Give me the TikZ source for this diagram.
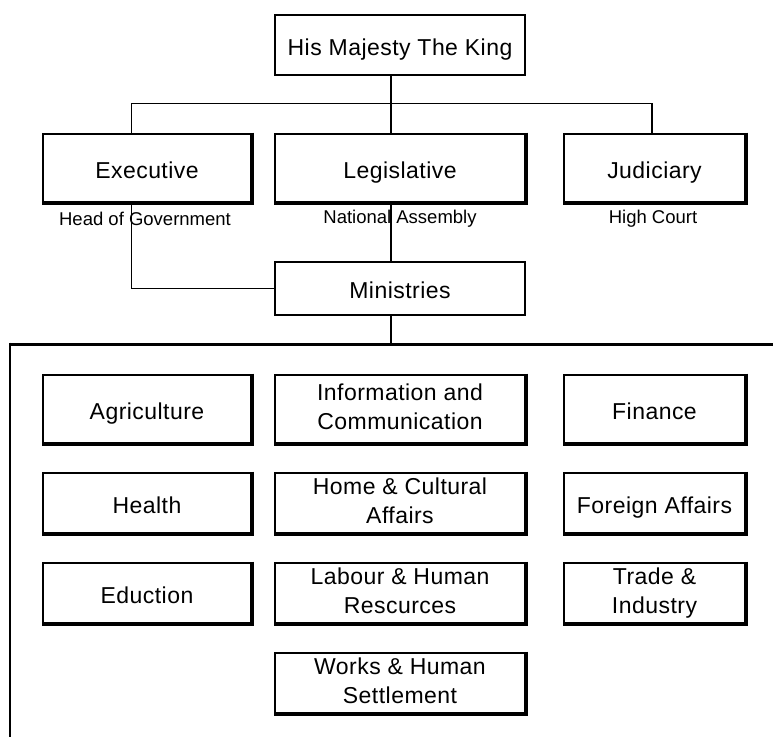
\documentclass[tikz,border=0pt]{standalone}
\usepackage{fontspec}
\newfontfamily\boxfamily{Liberation Sans}[LetterSpace=2]
\newfontfamily\notefamily{Liberation Sans}
\newcommand\boxstrut{\vrule width 0pt height 24.8pt depth 4.2pt}

\tikzset{
	box/.style={draw, fill=white, line width=1.2pt, inner sep=0pt, align=center,
		font=\boxfamily\fontsize{23}{29}\selectfont,
		execute at begin node=\boxstrut, execute at end node=\boxstrut},
	sbox/.style={box, append after command={
		([xshift=0.7pt,yshift=0.7pt]\tikzlastnode.north east) edge[line width=2.6pt] ([xshift=0.7pt]\tikzlastnode.south east)
		([yshift=-0.7pt]\tikzlastnode.south west) edge[line width=2.6pt] ([xshift=2pt,yshift=-0.7pt]\tikzlastnode.south east)}},
	lcol/.style={minimum width=208pt},
	mcol/.style={minimum width=250pt},
	rcol/.style={minimum width=181pt},
	note/.style={inner sep=0pt, font=\notefamily\fontsize{18.5}{22}\selectfont},
	link/.style={line width=1.2pt}
}

\begin{document}
\begin{tikzpicture}[x=1pt,y=-1pt]
			\useasboundingbox (0,0) rectangle (773,736);
			% government
			\node[box,mcol,minimum height=60pt] (king) at (400,45) {His Majesty The King};
			\node[sbox,lcol,minimum height=68pt] (exec) at (147,168) {Executive};
			\node[sbox,mcol,minimum height=68pt] (leg) at (400,168) {Legislative};
			\node[sbox,rcol,minimum height=68pt] (jud) at (654.5,168) {Judiciary};
			\node[note] (hog) at (145,219) {Head of Government};
			\node[note] (nass) at (400,219) {National Assembly};
			\node[note] (hct) at (653,219) {High Court};
			\node[box,mcol,minimum height=53pt] (min) at (400,288.5) {Ministries};
			% connectors
			\coordinate (bus) at ([xshift=-9pt,yshift=-28pt]king.south);
			\draw[link] ([xshift=-9pt]king.south) -- ([xshift=-9pt]leg.north);
			\draw[link] ([xshift=-15.5pt]exec.north) |- (bus) -| ([xshift=-2.5pt]jud.north);
			\draw[link] ([xshift=-15.5pt,yshift=-1.3pt]exec.south) |- (min.west);
			\draw[link] ([xshift=-9pt,yshift=-1.3pt]leg.south) -- ([xshift=-9pt]min.north);
			\coordinate (mdrop) at ([xshift=-9pt]min.south);
			\coordinate (corner) at (10,344);
			\draw[link] (mdrop) -- (mdrop |- corner);
			\draw[line width=3pt] (corner) -- (773,344);
			\draw[line width=2pt] ([yshift=1.5pt]corner) -- (10,740);
			% ministries
			\node[sbox,lcol,minimum height=68pt] (agri) at (147,409) {Agriculture};
			\node[sbox,mcol,minimum height=68pt] (info) at (400,409) {Information and\\Communication};
			\node[sbox,rcol,minimum height=68pt] (fin) at (654.5,409) {Finance};
			\node[sbox,lcol,minimum height=60pt] (health) at (147,503) {Health};
			\node[sbox,mcol,minimum height=60pt] (home) at (400,503) {Home \& Cultural\\Affairs};
			\node[sbox,rcol,minimum height=60pt] (foreign) at (654.5,503) {Foreign Affairs};
			\node[sbox,lcol,minimum height=60pt] (edu) at (147,593) {Eduction};
			\node[sbox,mcol,minimum height=60pt] (labour) at (400,593) {Labour \& Human\\Rescurces};
			\node[sbox,rcol,minimum height=60pt] (trade) at (654.5,593) {Trade \&\\Industry};
			\node[sbox,mcol,minimum height=60pt] (works) at (400,683) {Works \& Human\\Settlement};
		\end{tikzpicture}
\end{document}
